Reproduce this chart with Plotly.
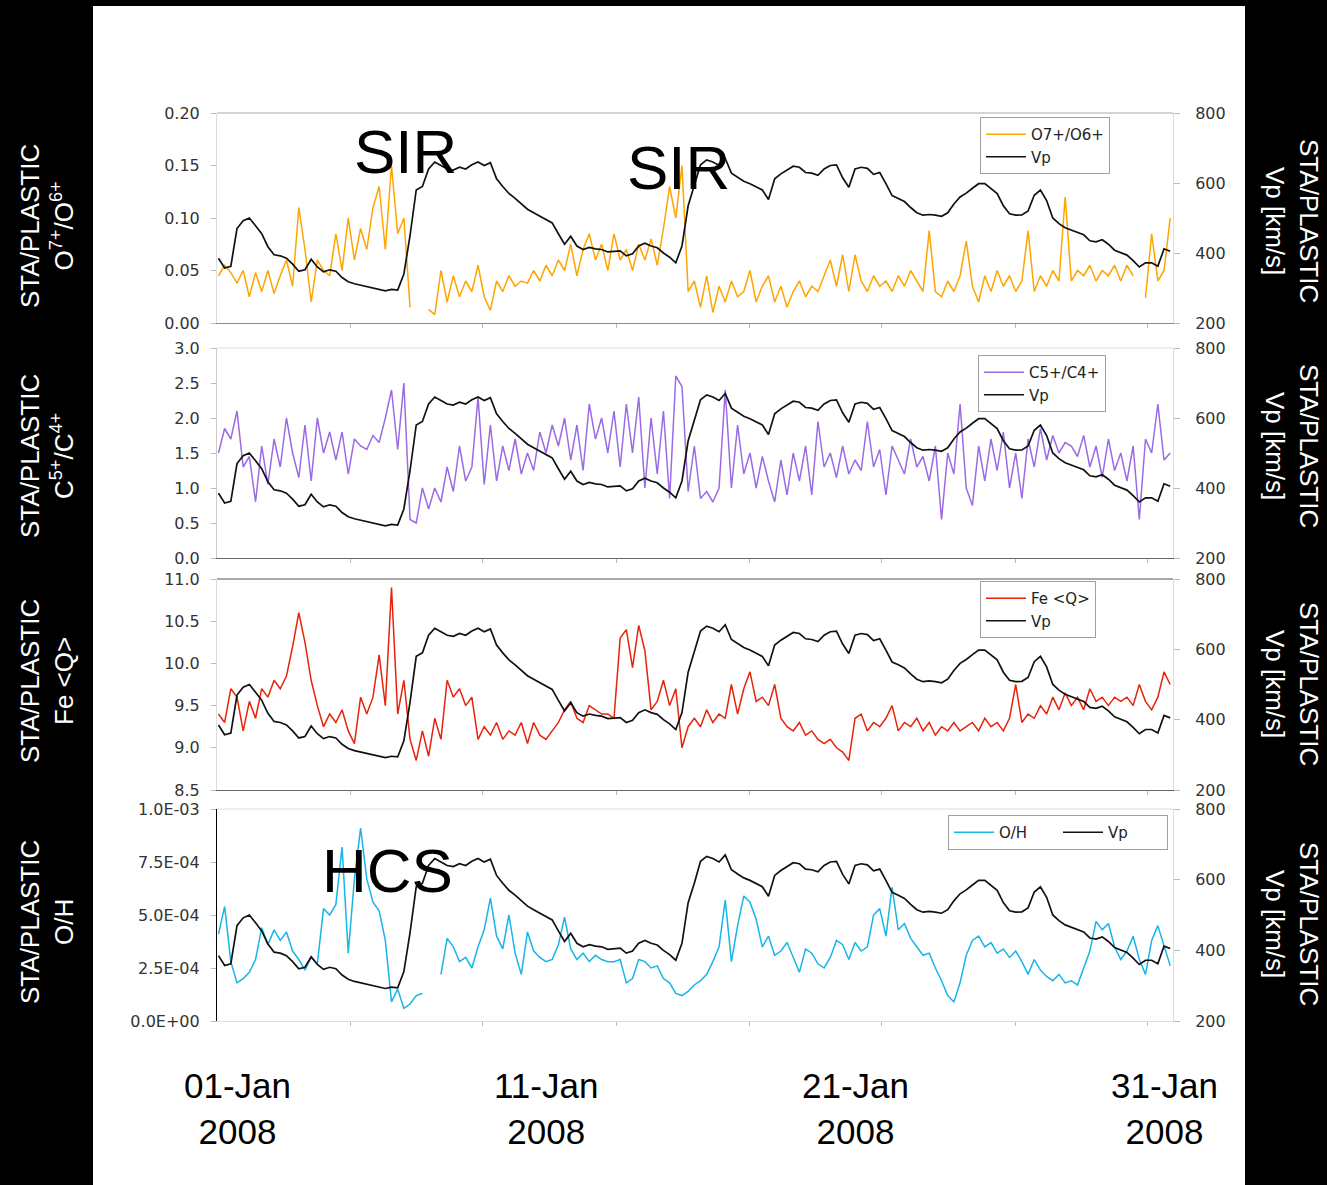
import pandas as pd
import plotly.graph_objects as go

W, H = 1327, 1185

# ---------------- data ----------------
time = pd.date_range("2007-12-31 09:36", periods=155, freq="288min")

vp_kms = [
    385, 357, 362, 470, 492, 500, 478, 455, 418, 395,
    392, 385, 368, 348, 352, 382, 360, 346, 352, 348,
    330, 318, 312, 308, 305, 300, 297, 292, 296, 294,
    340, 450, 580, 590, 640, 660, 650, 640, 637, 645,
    640, 652, 660, 650, 658, 612, 590, 570, 556, 540,
    525, 515, 505, 495, 486, 455, 425, 448, 420, 410,
    416, 412, 410, 403, 405, 406, 392, 398, 420, 428,
    420, 415, 400, 388, 372, 420, 535, 590, 652, 666,
    660, 650, 670, 628, 616, 605, 598, 590, 580, 553,
    612, 626, 638, 648, 645, 630, 628, 622, 640, 650,
    652, 615, 588, 640, 645, 642, 625, 630, 598, 564,
    556, 547, 530, 515, 508, 510, 508, 505, 515, 540,
    560, 571, 585, 598, 598, 584, 570, 535, 512, 508,
    509, 520, 565, 580, 550, 500, 484, 472, 465, 460,
    452, 435, 432, 438, 425, 408, 400, 394, 378, 360,
    372, 372, 362, 412, 405,
]

o7_o6 = [
    0.045, 0.055, 0.048, 0.038, 0.05, 0.025, 0.048, 0.03, 0.05, 0.028,
    0.045, 0.06, 0.035, 0.11, 0.07, 0.02, 0.06, 0.05, 0.045, 0.085,
    0.05, 0.10, 0.06, 0.09, 0.07, 0.11, 0.13, 0.07, 0.15, 0.085,
    0.10, 0.015, None, None, 0.013, 0.008, 0.05, 0.02, 0.045, 0.025,
    0.04, 0.03, 0.055, 0.025, 0.012, 0.04, 0.03, 0.045, 0.035, 0.04,
    0.038, 0.05, 0.04, 0.055, 0.045, 0.06, 0.05, 0.075, 0.045, 0.07,
    0.085, 0.06, 0.075, 0.05, 0.085, 0.06, 0.07, 0.05, 0.075, 0.06,
    0.08, 0.055, 0.09, 0.13, 0.10, 0.15, 0.03, 0.04, 0.015, 0.045,
    0.01, 0.035, 0.02, 0.04, 0.025, 0.03, 0.05, 0.02, 0.035, 0.045,
    0.02, 0.035, 0.015, 0.03, 0.04, 0.025, 0.035, 0.03, 0.045, 0.06,
    0.035, 0.065, 0.03, 0.065, 0.04, 0.03, 0.045, 0.035, 0.04, 0.03,
    0.045, 0.035, 0.05, 0.04, 0.03, 0.088, 0.03, 0.025, 0.04, 0.03,
    0.045, 0.078, 0.035, 0.02, 0.045, 0.03, 0.05, 0.035, 0.045, 0.03,
    0.04, 0.088, 0.03, 0.045, 0.035, 0.05, 0.04, 0.12, 0.04, 0.05,
    0.045, 0.055, 0.04, 0.05, 0.045, 0.055, 0.04, 0.055, 0.045, None,
    0.024, 0.085, 0.04, 0.05, 0.10,
]

c5_c4 = [
    1.5, 1.85, 1.7, 2.1, 1.3, 1.45, 0.8, 1.6, 1.05, 1.7,
    1.3, 2.0, 1.5, 1.15, 1.9, 1.1, 2.0, 1.5, 1.8, 1.4,
    1.8, 1.2, 1.7, 1.6, 1.55, 1.75, 1.65, 2.0, 2.4, 1.55,
    2.5, 0.55, 0.5, 1.0, 0.7, 1.0, 0.8, 1.3, 0.95, 1.6,
    1.1, 1.3, 2.3, 1.05, 1.9, 1.1, 1.6, 1.25, 1.7, 1.2,
    1.5, 1.25, 1.8, 1.5, 1.9, 1.6, 2.0, 1.4, 1.9, 1.25,
    2.2, 1.7, 2.0, 1.5, 2.1, 1.3, 2.2, 1.5, 2.3, 1.0,
    2.0, 1.2, 2.1, 0.85, 2.6, 2.45, 0.95, 1.6, 0.85, 0.95,
    0.8, 1.0, 2.4, 1.0, 1.9, 1.2, 1.5, 1.0, 1.45, 1.1,
    0.8, 1.4, 0.9, 1.5, 1.1, 1.6, 0.9, 1.95, 1.3, 1.5,
    1.15, 1.6, 1.2, 1.4, 1.25, 1.95, 1.3, 1.55, 0.9, 1.6,
    1.4, 1.2, 1.7, 1.3, 1.45, 1.1, 1.6, 0.55, 1.5, 1.2,
    2.2, 1.0, 0.75, 1.6, 1.1, 1.7, 1.25, 1.8, 1.0, 1.5,
    0.85, 1.7, 1.3, 1.85, 1.4, 1.75, 1.5, 1.65, 1.6, 1.45,
    1.75, 1.3, 1.6, 1.15, 1.7, 1.25, 1.5, 1.1, 1.6, 0.55,
    1.7, 1.5, 2.2, 1.4, 1.5,
]

fe_q = [
    9.4, 9.3, 9.7, 9.6, 9.2, 9.55, 9.35, 9.7, 9.6, 9.8,
    9.7, 9.85, 10.2, 10.6, 10.25, 9.8, 9.5, 9.25, 9.4, 9.3,
    9.45, 9.2, 9.05, 9.6, 9.4, 9.6, 10.1, 9.5, 10.9, 9.4,
    9.8, 9.1, 8.85, 9.2, 8.9, 9.35, 9.1, 9.8, 9.6, 9.7,
    9.5, 9.6, 9.1, 9.25, 9.15, 9.3, 9.1, 9.2, 9.15, 9.3,
    9.05, 9.3, 9.15, 9.1, 9.2, 9.3, 9.45, 9.55, 9.35, 9.3,
    9.5, 9.45, 9.4, 9.4, 9.35, 10.3, 10.4, 9.95, 10.45, 10.15,
    9.45, 9.55, 9.8, 9.5, 9.7, 9.0, 9.25, 9.35, 9.25, 9.45,
    9.3, 9.4, 9.35, 9.75, 9.4, 9.7, 9.9, 9.55, 9.6, 9.5,
    9.75, 9.35, 9.25, 9.2, 9.3, 9.15, 9.2, 9.1, 9.05, 9.1,
    9.0, 8.95, 8.85, 9.35, 9.4, 9.2, 9.3, 9.25, 9.35, 9.5,
    9.2, 9.3, 9.25, 9.35, 9.2, 9.3, 9.15, 9.25, 9.2, 9.3,
    9.2, 9.25, 9.3, 9.2, 9.35, 9.25, 9.3, 9.2, 9.35, 9.75,
    9.3, 9.4, 9.35, 9.5, 9.4, 9.6, 9.45, 9.65, 9.5, 9.6,
    9.45, 9.7, 9.55, 9.6, 9.5, 9.6, 9.55, 9.6, 9.5, 9.75,
    9.55, 9.45, 9.6, 9.9, 9.75,
]

# O/H in units of 1E-04
o_h_e4 = [
    4.1, 5.4, 2.8, 1.8, 2.0, 2.3, 2.9, 4.4, 3.6, 4.3,
    3.8, 4.2, 3.3, 2.9, 2.4, 3.0, 2.7, 5.3, 5.0, 5.5,
    8.2, 3.2, 6.7, 9.1, 6.7, 5.6, 5.2, 3.8, 0.9, 1.5,
    0.6, 0.8, 1.2, 1.3, None, None, 2.2, 3.9, 3.5, 2.8,
    3.0, 2.5, 3.5, 4.3, 5.8, 4.0, 3.4, 5.0, 3.2, 2.2,
    4.2, 3.3, 3.0, 2.8, 2.9, 3.6, 4.9, 3.4, 2.9, 3.2,
    2.8, 3.1, 2.9, 2.8, 2.8, 2.9, 1.8, 2.0, 2.9, 2.8,
    2.5, 2.6, 2.0, 1.8, 1.3, 1.2, 1.4, 1.7, 1.9, 2.2,
    2.8, 3.5, 5.7, 2.8, 4.5, 5.9, 5.6, 4.8, 3.5, 4.0,
    3.1, 3.3, 3.7, 3.0, 2.3, 3.4, 3.2, 2.7, 2.5, 3.0,
    3.8, 3.6, 2.9, 3.7, 3.3, 3.5, 5.0, 5.3, 4.0, 6.3,
    4.3, 4.6, 3.9, 3.5, 3.1, 3.2, 2.5, 1.9, 1.2, 0.9,
    1.8, 3.1, 3.8, 4.0, 3.5, 3.7, 3.2, 3.4, 3.0, 3.3,
    2.8, 2.2, 2.9, 2.4, 2.1, 1.9, 2.2, 1.8, 1.9, 1.7,
    2.5, 3.3, 4.7, 4.3, 4.6, 3.5, 2.9, 3.3, 4.0, 2.9,
    2.2, 3.8, 4.5, 3.6, 2.6,
]

x_range = ["2007-12-31 08:28", "2008-01-31 06:58"]
x_tickvals = ["2008-01-04 15:50", "2008-01-08 23:02", "2008-01-13 06:29",
              "2008-01-17 13:41", "2008-01-21 20:53", "2008-01-26 04:19",
              "2008-01-30 11:31"]
date_labels = ["2008-01-01", "2008-01-11", "2008-01-21", "2008-01-31"]
date_texts = ["01-Jan<br>2008", "11-Jan<br>2008", "21-Jan<br>2008", "31-Jan<br>2008"]

vp_ticks = [200, 400, 600, 800]

# ---------------- styling / layout helpers ----------------
def px(x):
    return x / W


def py(y):
    return 1 - y / H


TICK_FONT = dict(family="DejaVu Sans", size=16, color="#333333")
LEG_FONT = dict(family="DejaVu Sans", size=15, color="#222222")

panels = [
    dict(name="O7+/O6+", y=o7_o6, color="#FFA500", top=113, bot=323,
         rng=[0, 0.20], tv=[0, 0.05, 0.10, 0.15, 0.20],
         tt=["0.00", "0.05", "0.10", "0.15", "0.20"],
         bot_col="#8a8a8a", top_col="#a8a8a8", left_col="#dddddd",
         left_lab="STA/PLASTIC<br>O<sup>7+</sup>/O<sup>6+</sup>", lab_y=226, rlab_y=221,
         leg_x=980, leg_y=117, orient="v"),
    dict(name="C5+/C4+", y=c5_c4, color="#9B6BE6", top=348, bot=558,
         rng=[0, 3.0], tv=[0, 0.5, 1.0, 1.5, 2.0, 2.5, 3.0],
         tt=["0.0", "0.5", "1.0", "1.5", "2.0", "2.5", "3.0"],
         bot_col="#666666", top_col="#dddddd", left_col="#cccccc",
         left_lab="STA/PLASTIC<br>C<sup>5+</sup>/C<sup>4+</sup>", lab_y=456, rlab_y=446,
         leg_x=978, leg_y=355, orient="v"),
    dict(name="Fe &lt;Q&gt;", y=fe_q, color="#E8230B", top=579, bot=790,
         rng=[8.5, 11.0], tv=[8.5, 9.0, 9.5, 10.0, 10.5, 11.0],
         tt=["8.5", "9.0", "9.5", "10.0", "10.5", "11.0"],
         bot_col="#666666", top_col="#555555", left_col="#dddddd",
         left_lab="STA/PLASTIC<br>Fe &lt;Q&gt;", lab_y=681, rlab_y=684,
         leg_x=980, leg_y=581, orient="v"),
    dict(name="O/H", y=o_h_e4, color="#18B4EA", top=809, bot=1021,
         rng=[0, 10.0], tv=[0, 2.5, 5.0, 7.5, 10.0],
         tt=["0.0E+00", "2.5E-04", "5.0E-04", "7.5E-04", "1.0E-03"],
         bot_col="#dddddd", top_col="#dddddd", left_col="#000000",
         left_lab="STA/PLASTIC<br>O/H", lab_y=922, rlab_y=924,
         leg_x=948, leg_y=815, orient="h"),
]

fig = go.Figure()
layout = dict(
    width=W, height=H,
    margin=dict(l=0, r=0, t=0, b=0, pad=0, autoexpand=False),
    paper_bgcolor="#000000",
    plot_bgcolor="#ffffff",
    showlegend=True,
    font=dict(family="Liberation Sans, Arial, sans-serif", color="#222"),
)
shapes = [dict(type="rect", xref="paper", yref="paper",
               x0=px(93), x1=px(1245), y0=0, y1=py(6),
               fillcolor="#ffffff", line=dict(width=0), layer="below")]
annotations = []

x_dom = [px(217), px(1173)]

for i, p in enumerate(panels, start=1):
    xa = "x" if i == 1 else f"x{i}"
    yl = "y" if i == 1 else f"y{2 * i - 1}"
    yr = f"y{2 * i}"
    leg = "legend" if i == 1 else f"legend{i}"
    dom = [py(p["bot"]), py(p["top"])]

    fig.add_trace(go.Scatter(x=time, y=p["y"], name=p["name"], mode="lines",
                             line=dict(color=p["color"], width=1.5),
                             xaxis=xa, yaxis=yl, legend=leg, connectgaps=False))
    fig.add_trace(go.Scatter(x=time, y=vp_kms, name="Vp", mode="lines",
                             line=dict(color="#111111", width=1.7),
                             xaxis=xa, yaxis=yr, legend=leg))

    xkey = "xaxis" if i == 1 else f"xaxis{i}"
    ylkey = "yaxis" if i == 1 else f"yaxis{2 * i - 1}"
    yrkey = f"yaxis{2 * i}"

    layout[xkey] = dict(domain=x_dom, anchor=yl, type="date", range=x_range,
                        showgrid=False, zeroline=False, showline=True,
                        linecolor=p["bot_col"], linewidth=1.2,
                        ticks="outside", ticklen=4, tickcolor="#bbbbbb",
                        tickmode="array", tickvals=x_tickvals,
                        showticklabels=False)
    layout[ylkey] = dict(domain=dom, anchor=xa, range=p["rng"],
                         tickmode="array", tickvals=p["tv"], ticktext=p["tt"],
                         showgrid=False, zeroline=False, showline=True,
                         linecolor=p["left_col"], linewidth=1.2 if i == 4 else 1,
                         ticks="outside", ticklen=5, tickcolor="#bbbbbb",
                         ticklabelstandoff=8, tickfont=TICK_FONT)
    layout[yrkey] = dict(overlaying=yl, side="right", anchor=xa, range=[200, 800],
                         tickmode="array", tickvals=vp_ticks,
                         showgrid=False, zeroline=False, showline=True,
                         linecolor="#dddddd", linewidth=1,
                         ticks="outside", ticklen=6, tickcolor="#bbbbbb",
                         ticklabelstandoff=12, tickfont=TICK_FONT)

    leg_cfg = dict(x=px(p["leg_x"]), y=py(p["leg_y"]), xanchor="left", yanchor="top",
                   xref="paper", yref="paper",
                   orientation=p["orient"], bgcolor="#ffffff",
                   bordercolor="#a0a0a0", borderwidth=1,
                   font=LEG_FONT, tracegroupgap=0, itemwidth=40)
    if p["orient"] == "h":
        leg_cfg.update(entrywidth=54, entrywidthmode="pixels")
    layout[leg] = leg_cfg

    # top border of the panel
    shapes.append(dict(type="line", xref="paper", yref="paper",
                       x0=x_dom[0], x1=x_dom[1], y0=py(p["top"]), y1=py(p["top"]),
                       line=dict(color=p["top_col"], width=1.2)))

    # outer labels
    annotations.append(dict(text=p["left_lab"], xref="paper", yref="paper",
                            x=px(47), y=py(p["lab_y"]), xanchor="center", yanchor="middle",
                            textangle=-90, showarrow=False,
                            font=dict(family="Liberation Sans, Arial", size=26, color="#ffffff")))
    annotations.append(dict(text="STA/PLASTIC<br>Vp [km/s]", xref="paper", yref="paper",
                            x=px(1292), y=py(p["rlab_y"]), xanchor="center", yanchor="middle",
                            textangle=90, showarrow=False,
                            font=dict(family="Liberation Sans, Arial", size=26, color="#ffffff")))

# event labels
for txt, xx, yy in [("SIR", 405, 152), ("SIR", 678, 167), ("HCS", 387, 870)]:
    annotations.append(dict(text=txt, xref="paper", yref="paper", x=px(xx), y=py(yy),
                            xanchor="center", yanchor="middle", showarrow=False,
                            font=dict(family="Liberation Sans, Arial", size=62, color="#000000")))

# date labels under the bottom panel
for d, t in zip(date_labels, date_texts):
    annotations.append(dict(text=t, xref="x4", yref="paper", x=d, y=py(1108),
                            xanchor="center", yanchor="middle", showarrow=False,
                            font=dict(family="Liberation Sans, Arial", size=35, color="#000000")))

layout["shapes"] = shapes
layout["annotations"] = annotations
fig.update_layout(**layout)

fig.write_html("out.html")
